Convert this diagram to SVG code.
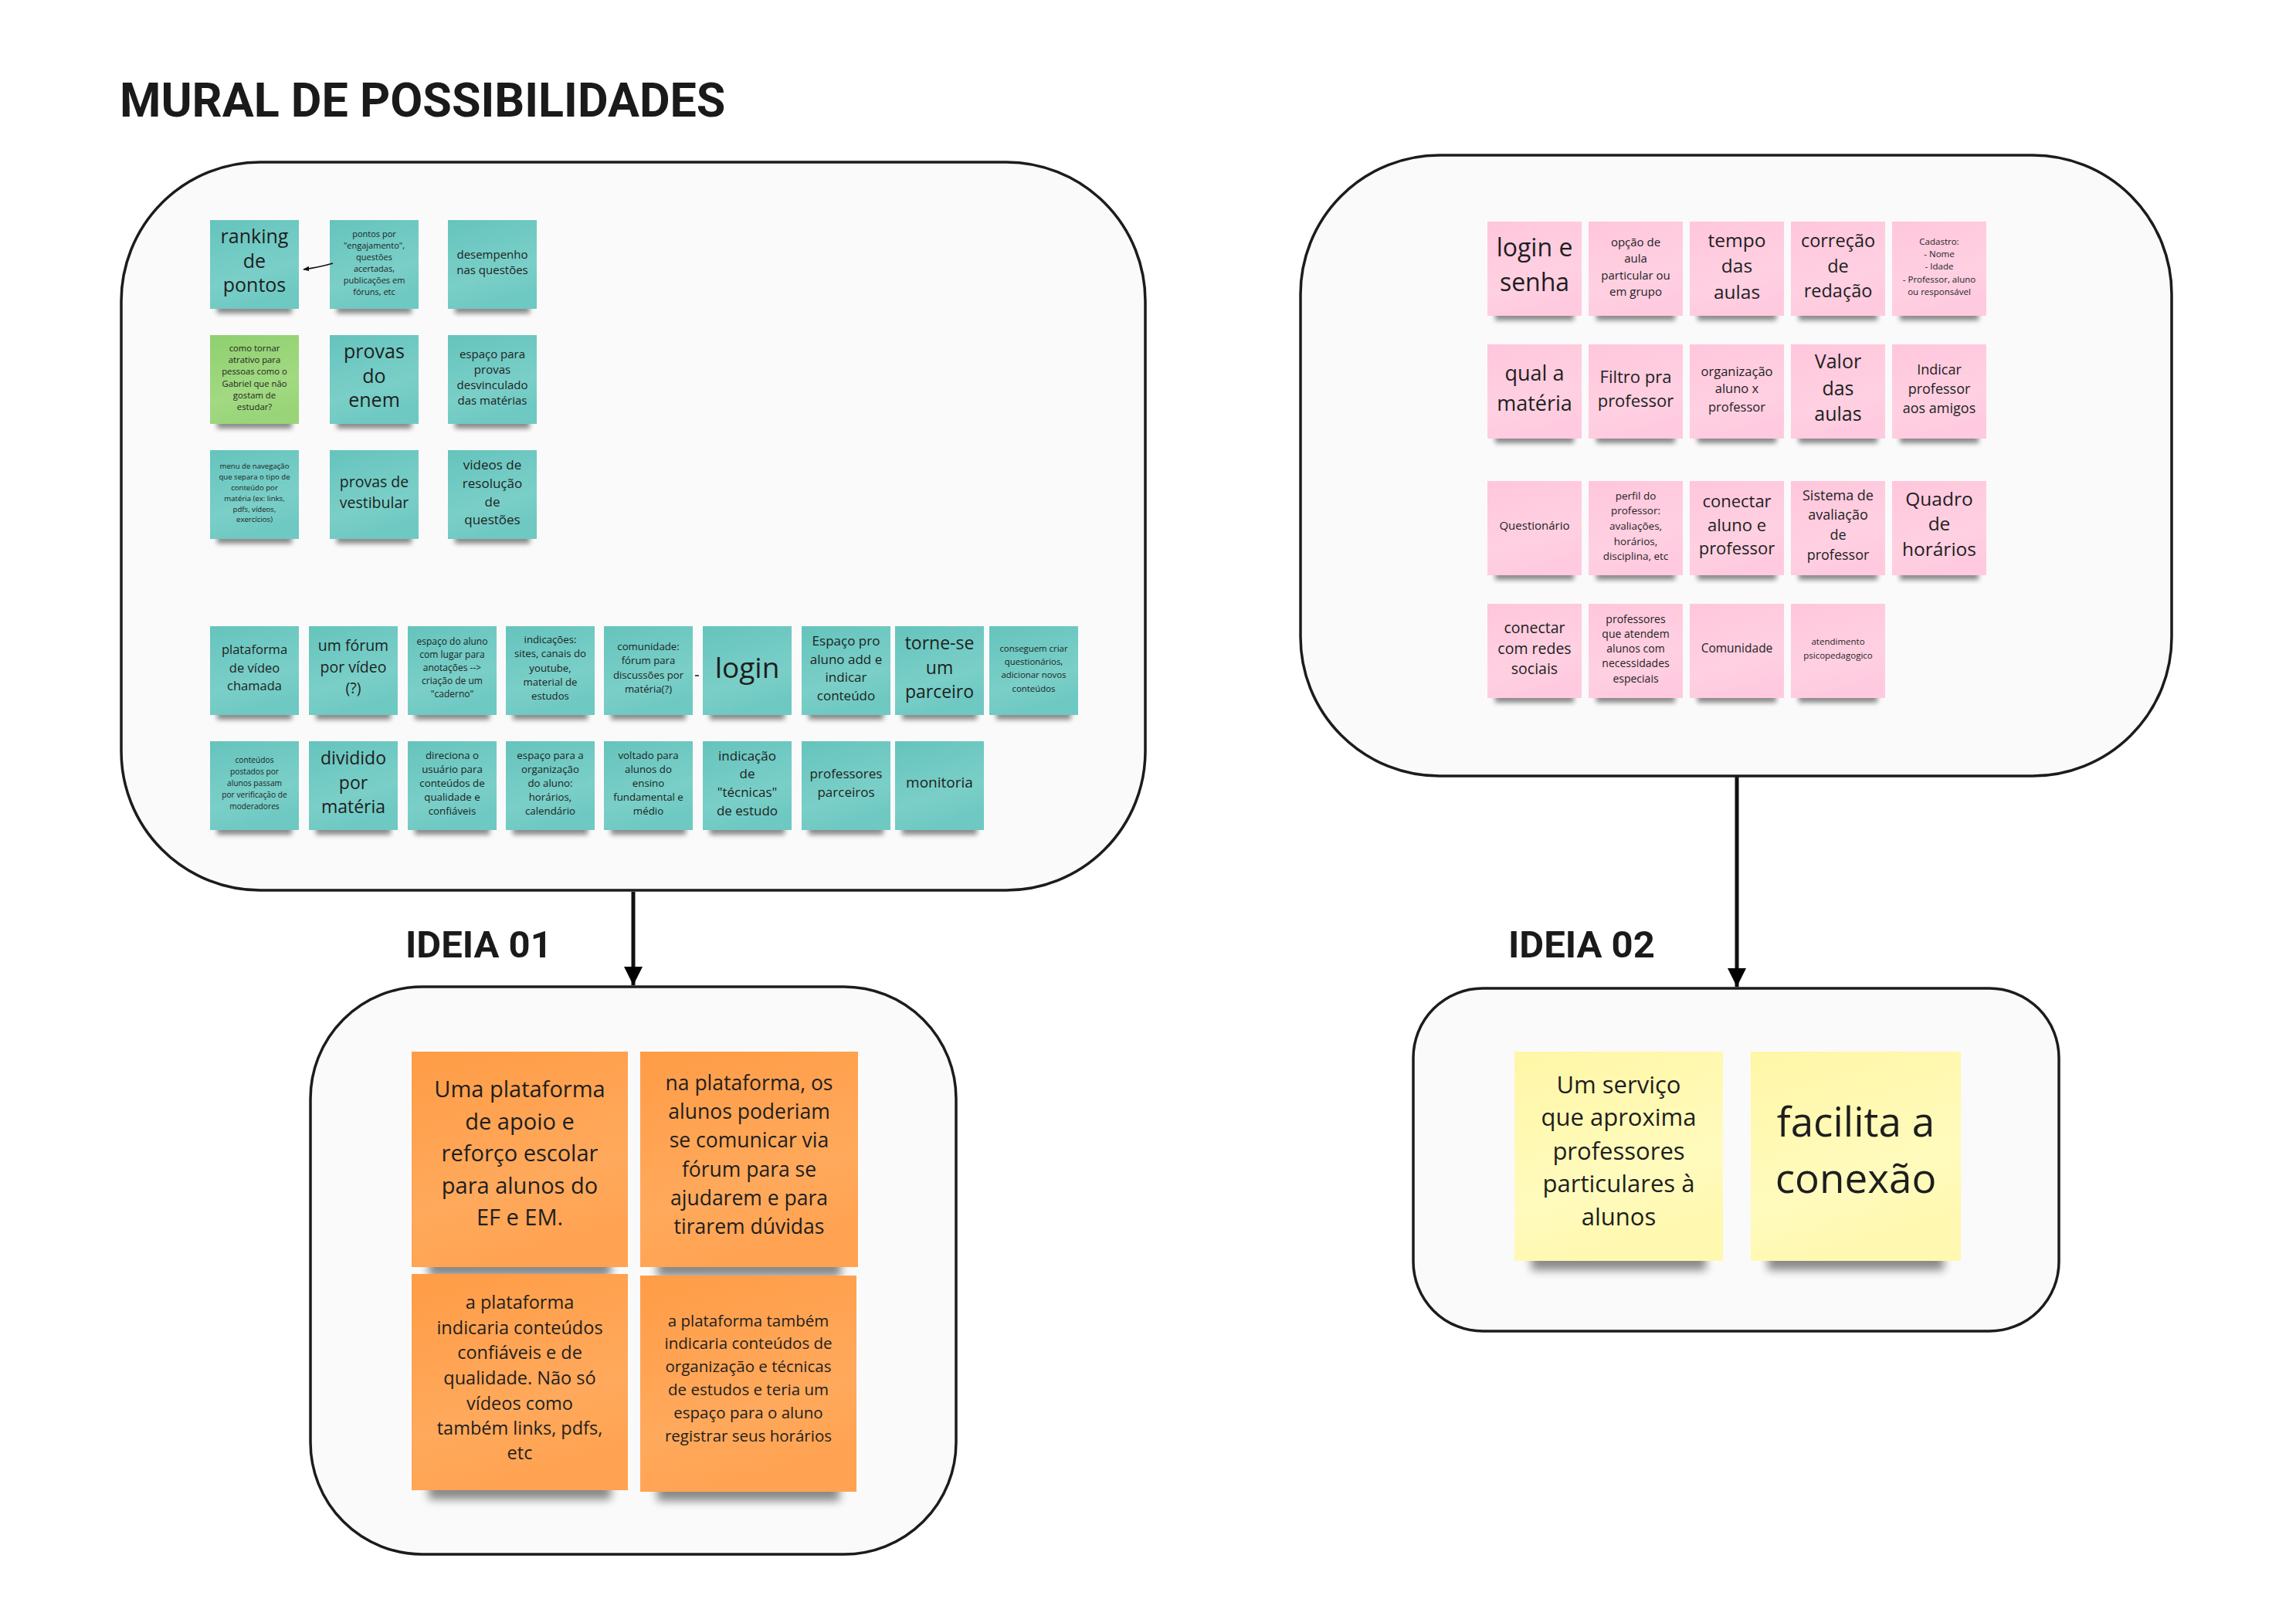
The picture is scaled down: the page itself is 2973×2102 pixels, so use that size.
<svg xmlns="http://www.w3.org/2000/svg" width="2973" height="2102" viewBox="0 0 2973 2102">
<style>
.panel{fill:#fafafa;stroke:#1c1c1c;stroke-width:3.5}
.title{font-family:Roboto,"Liberation Sans",sans-serif;font-weight:700;fill:#1a1a1a}
.t{font-family:"Open Sans","Liberation Sans",sans-serif;fill:#1e1e1e;text-anchor:middle}
.sh{fill:#000;opacity:.45}
.teal{fill:url(#gTeal)}
.green{fill:url(#gGreen)}
.pink{fill:url(#gPink)}
.orange{fill:url(#gOrange)}
.yellow{fill:url(#gYellow)}
.conn{stroke:#111;fill:none}
</style>
<defs>
<filter id="bs" x="-20%" y="-100%" width="140%" height="300%"><feGaussianBlur stdDeviation="3"/></filter>
<filter id="bl" x="-20%" y="-100%" width="140%" height="300%"><feGaussianBlur stdDeviation="6"/></filter>
<linearGradient id="gTeal" x1="0" y1="0" x2="0.3" y2="1"><stop offset="0" stop-color="#65c4bd"/><stop offset="0.7" stop-color="#7acfc8"/><stop offset="1" stop-color="#6ec9c2"/></linearGradient>
<linearGradient id="gGreen" x1="0" y1="0" x2="0.3" y2="1"><stop offset="0" stop-color="#8fd06f"/><stop offset="0.7" stop-color="#a2d982"/><stop offset="1" stop-color="#99d578"/></linearGradient>
<linearGradient id="gPink" x1="0" y1="0" x2="0.3" y2="1"><stop offset="0" stop-color="#ffc6dc"/><stop offset="0.7" stop-color="#ffd0e2"/><stop offset="1" stop-color="#ffcadf"/></linearGradient>
<linearGradient id="gOrange" x1="0" y1="0" x2="0.3" y2="1"><stop offset="0" stop-color="#ff9c46"/><stop offset="0.7" stop-color="#ffa95c"/><stop offset="1" stop-color="#ffa352"/></linearGradient>
<linearGradient id="gYellow" x1="0" y1="0" x2="0.3" y2="1"><stop offset="0" stop-color="#fff6a6"/><stop offset="0.7" stop-color="#fffbbd"/><stop offset="1" stop-color="#fff8b0"/></linearGradient>
<marker id="ah" viewBox="0 0 10 10" refX="9" refY="5" markerWidth="8" markerHeight="8" orient="auto" markerUnits="userSpaceOnUse"><path d="M0,1 L10,5 L0,9 Z" fill="#111"/></marker>
<marker id="ahBig" viewBox="0 0 10 10" refX="10" refY="5" markerWidth="26" markerHeight="24" orient="auto" markerUnits="userSpaceOnUse"><path d="M0,0 L10,5 L0,10 Z" fill="#000"/></marker>
</defs>
<rect width="2973" height="2102" fill="#ffffff"/>

<text class="title" x="155" y="151" font-size="61">MURAL DE POSSIBILIDADES</text>

<g id="panel-mural"><rect class="panel" x="157" y="210" width="1326" height="943" rx="180" ry="180"/></g>
<g id="panel-mural2"><rect class="panel" x="1684" y="201" width="1128" height="804" rx="180" ry="180"/></g>
<g id="panel-ideia01"><rect class="panel" x="402" y="1278" width="836" height="735" rx="145" ry="145"/></g>
<g id="panel-ideia02"><rect class="panel" x="1830" y="1280" width="836" height="444" rx="90" ry="90"/></g>

<text id="label-ideia01" class="title" x="525" y="1240" font-size="49">IDEIA 01</text>
<text id="label-ideia02" class="title" x="1953" y="1240" font-size="49">IDEIA 02</text>

<!-- teal notes top-left -->
<g id="n-ranking" transform="translate(272,285)"><rect class="sh" filter="url(#bs)" x="9" y="109" width="97" height="12"/><rect class="teal" width="115" height="115"/><text class="t" font-size="25"><tspan x="57.5" y="30">ranking</tspan><tspan x="57.5" y="62">de</tspan><tspan x="57.5" y="93">pontos</tspan></text></g>
<g id="n-pontospor" transform="translate(427,285)"><rect class="sh" filter="url(#bs)" x="9" y="109" width="97" height="12"/><rect class="teal" width="115" height="115"/><text class="t" font-size="11"><tspan x="57.5" y="22">pontos por</tspan><tspan x="57.5" y="37">"engajamento",</tspan><tspan x="57.5" y="52">questões</tspan><tspan x="57.5" y="67">acertadas,</tspan><tspan x="57.5" y="82">publicações em</tspan><tspan x="57.5" y="97">fóruns, etc</tspan></text></g>
<g id="n-desempenho" transform="translate(580,285)"><rect class="sh" filter="url(#bs)" x="9" y="109" width="97" height="12"/><rect class="teal" width="115" height="115"/><text class="t" font-size="15"><tspan x="57.5" y="50">desempenho</tspan><tspan x="57.5" y="70">nas questões</tspan></text></g>
<g id="n-atrativo" transform="translate(272,434)"><rect class="sh" filter="url(#bs)" x="9" y="109" width="97" height="12"/><rect class="green" width="115" height="115"/><text class="t" font-size="11.3"><tspan x="57.5" y="21">como tornar</tspan><tspan x="57.5" y="36">atrativo para</tspan><tspan x="57.5" y="51">pessoas como o</tspan><tspan x="57.5" y="66.5">Gabriel que não</tspan><tspan x="57.5" y="81.5">gostam de</tspan><tspan x="57.5" y="96.5">estudar?</tspan></text></g>
<g id="n-enem" transform="translate(427,434)"><rect class="sh" filter="url(#bs)" x="9" y="109" width="97" height="12"/><rect class="teal" width="115" height="115"/><text class="t" font-size="25"><tspan x="57.5" y="30">provas</tspan><tspan x="57.5" y="62">do</tspan><tspan x="57.5" y="93">enem</tspan></text></g>
<g id="n-espacoprovas" transform="translate(580,434)"><rect class="sh" filter="url(#bs)" x="9" y="109" width="97" height="12"/><rect class="teal" width="115" height="115"/><text class="t" font-size="15"><tspan x="57.5" y="30">espaço para</tspan><tspan x="57.5" y="50">provas</tspan><tspan x="57.5" y="70">desvinculado</tspan><tspan x="57.5" y="90">das matérias</tspan></text></g>
<g id="n-menu" transform="translate(272,583)"><rect class="sh" filter="url(#bs)" x="9" y="109" width="97" height="12"/><rect class="teal" width="115" height="115"/><text class="t" font-size="9.6"><tspan x="57.5" y="24">menu de navegação</tspan><tspan x="57.5" y="38">que separa o tipo de</tspan><tspan x="57.5" y="52">conteúdo por</tspan><tspan x="57.5" y="66">matéria (ex: links,</tspan><tspan x="57.5" y="79.5">pdfs, vídeos,</tspan><tspan x="57.5" y="93">exercícios)</tspan></text></g>
<g id="n-vestibular" transform="translate(427,583)"><rect class="sh" filter="url(#bs)" x="9" y="109" width="97" height="12"/><rect class="teal" width="115" height="115"/><text class="t" font-size="19.5"><tspan x="57.5" y="48">provas de</tspan><tspan x="57.5" y="75">vestibular</tspan></text></g>
<g id="n-videos" transform="translate(580,583)"><rect class="sh" filter="url(#bs)" x="9" y="109" width="97" height="12"/><rect class="teal" width="115" height="115"/><text class="t" font-size="17"><tspan x="57.5" y="25">videos de</tspan><tspan x="57.5" y="49">resolução</tspan><tspan x="57.5" y="73">de</tspan><tspan x="57.5" y="96">questões</tspan></text></g>

<!-- teal row A -->
<g id="n-videochamada" transform="translate(272,811)"><rect class="sh" filter="url(#bs)" x="9" y="109" width="97" height="12"/><rect class="teal" width="115" height="115"/><text class="t" font-size="16.5"><tspan x="57.5" y="36">plataforma</tspan><tspan x="57.5" y="60">de vídeo</tspan><tspan x="57.5" y="83">chamada</tspan></text></g>
<g id="n-forumvideo" transform="translate(400,811)"><rect class="sh" filter="url(#bs)" x="9" y="109" width="97" height="12"/><rect class="teal" width="115" height="115"/><text class="t" font-size="19.5"><tspan x="57.5" y="32">um fórum</tspan><tspan x="57.5" y="60">por vídeo</tspan><tspan x="57.5" y="87">(?)</tspan></text></g>
<g id="n-caderno" transform="translate(528,811)"><rect class="sh" filter="url(#bs)" x="9" y="109" width="97" height="12"/><rect class="teal" width="115" height="115"/><text class="t" font-size="12"><tspan x="57.5" y="24">espaço do aluno</tspan><tspan x="57.5" y="41">com lugar para</tspan><tspan x="57.5" y="58">anotações --&gt;</tspan><tspan x="57.5" y="75">criação de um</tspan><tspan x="57.5" y="92">"caderno"</tspan></text></g>
<g id="n-indicacoes" transform="translate(655,811)"><rect class="sh" filter="url(#bs)" x="9" y="109" width="97" height="12"/><rect class="teal" width="115" height="115"/><text class="t" font-size="13.2"><tspan x="57.5" y="22">indicações:</tspan><tspan x="57.5" y="40">sites, canais do</tspan><tspan x="57.5" y="59">youtube,</tspan><tspan x="57.5" y="77">material de</tspan><tspan x="57.5" y="95">estudos</tspan></text></g>
<g id="n-comunidade" transform="translate(782,811)"><rect class="sh" filter="url(#bs)" x="9" y="109" width="97" height="12"/><rect class="teal" width="115" height="115"/><text class="t" font-size="13.2"><tspan x="57.5" y="31">comunidade:</tspan><tspan x="57.5" y="49">fórum para</tspan><tspan x="57.5" y="68">discussões por</tspan><tspan x="57.5" y="86">matéria(?)</tspan></text></g>
<g id="n-login" transform="translate(910,811)"><rect class="sh" filter="url(#bs)" x="9" y="109" width="97" height="12"/><rect class="teal" width="115" height="115"/><text class="t" font-size="37"><tspan x="57.5" y="67">login</tspan></text></g>
<g id="n-espacopro" transform="translate(1038,811)"><rect class="sh" filter="url(#bs)" x="9" y="109" width="97" height="12"/><rect class="teal" width="115" height="115"/><text class="t" font-size="17"><tspan x="57.5" y="25">Espaço pro</tspan><tspan x="57.5" y="49">aluno add e</tspan><tspan x="57.5" y="72">indicar</tspan><tspan x="57.5" y="96">conteúdo</tspan></text></g>
<g id="n-parceiro" transform="translate(1159,811)"><rect class="sh" filter="url(#bs)" x="9" y="109" width="97" height="12"/><rect class="teal" width="115" height="115"/><text class="t" font-size="23"><tspan x="57.5" y="30">torne-se</tspan><tspan x="57.5" y="62">um</tspan><tspan x="57.5" y="93">parceiro</tspan></text></g>
<g id="n-questionarios" transform="translate(1281,811)"><rect class="sh" filter="url(#bs)" x="9" y="109" width="97" height="12"/><rect class="teal" width="115" height="115"/><text class="t" font-size="11.4"><tspan x="57.5" y="33">conseguem criar</tspan><tspan x="57.5" y="50">questionários,</tspan><tspan x="57.5" y="67">adicionar novos</tspan><tspan x="57.5" y="85">conteúdos</tspan></text></g>

<!-- teal row B -->
<g id="n-moderadores" transform="translate(272,960)"><rect class="sh" filter="url(#bs)" x="9" y="109" width="97" height="12"/><rect class="teal" width="115" height="115"/><text class="t" font-size="10.2"><tspan x="57.5" y="28">conteúdos</tspan><tspan x="57.5" y="43">postados por</tspan><tspan x="57.5" y="58">alunos passam</tspan><tspan x="57.5" y="73">por verificação de</tspan><tspan x="57.5" y="88">moderadores</tspan></text></g>
<g id="n-dividido" transform="translate(400,960)"><rect class="sh" filter="url(#bs)" x="9" y="109" width="97" height="12"/><rect class="teal" width="115" height="115"/><text class="t" font-size="23"><tspan x="57.5" y="30">dividido</tspan><tspan x="57.5" y="62">por</tspan><tspan x="57.5" y="93">matéria</tspan></text></g>
<g id="n-direciona" transform="translate(528,960)"><rect class="sh" filter="url(#bs)" x="9" y="109" width="97" height="12"/><rect class="teal" width="115" height="115"/><text class="t" font-size="13.3"><tspan x="57.5" y="23">direciona o</tspan><tspan x="57.5" y="41">usuário para</tspan><tspan x="57.5" y="59">conteúdos de</tspan><tspan x="57.5" y="77">qualidade e</tspan><tspan x="57.5" y="95">confiáveis</tspan></text></g>
<g id="n-organizacao" transform="translate(655,960)"><rect class="sh" filter="url(#bs)" x="9" y="109" width="97" height="12"/><rect class="teal" width="115" height="115"/><text class="t" font-size="13.3"><tspan x="57.5" y="23">espaço para a</tspan><tspan x="57.5" y="41">organização</tspan><tspan x="57.5" y="59">do aluno:</tspan><tspan x="57.5" y="77">horários,</tspan><tspan x="57.5" y="95">calendário</tspan></text></g>
<g id="n-ensino" transform="translate(782,960)"><rect class="sh" filter="url(#bs)" x="9" y="109" width="97" height="12"/><rect class="teal" width="115" height="115"/><text class="t" font-size="13.3"><tspan x="57.5" y="23">voltado para</tspan><tspan x="57.5" y="41">alunos do</tspan><tspan x="57.5" y="59">ensino</tspan><tspan x="57.5" y="77">fundamental e</tspan><tspan x="57.5" y="95">médio</tspan></text></g>
<g id="n-tecnicas" transform="translate(910,960)"><rect class="sh" filter="url(#bs)" x="9" y="109" width="97" height="12"/><rect class="teal" width="115" height="115"/><text class="t" font-size="17"><tspan x="57.5" y="25">indicação</tspan><tspan x="57.5" y="48">de</tspan><tspan x="57.5" y="72">"técnicas"</tspan><tspan x="57.5" y="96">de estudo</tspan></text></g>
<g id="n-profparceiros" transform="translate(1038,960)"><rect class="sh" filter="url(#bs)" x="9" y="109" width="97" height="12"/><rect class="teal" width="115" height="115"/><text class="t" font-size="17"><tspan x="57.5" y="48">professores</tspan><tspan x="57.5" y="72">parceiros</tspan></text></g>
<g id="n-monitoria" transform="translate(1159,960)"><rect class="sh" filter="url(#bs)" x="9" y="109" width="97" height="12"/><rect class="teal" width="115" height="115"/><text class="t" font-size="19"><tspan x="57.5" y="60">monitoria</tspan></text></g>

<!-- pink notes -->
<g id="p-login" transform="translate(1926,287)"><rect class="sh" filter="url(#bs)" x="10" y="116" width="102" height="12"/><rect class="pink" width="122" height="122"/><text class="t" font-size="32"><tspan x="61" y="45">login e</tspan><tspan x="61" y="90">senha</tspan></text></g>
<g id="p-opcao" transform="translate(2057,287)"><rect class="sh" filter="url(#bs)" x="10" y="116" width="102" height="12"/><rect class="pink" width="122" height="122"/><text class="t" font-size="15"><tspan x="61" y="32">opção de</tspan><tspan x="61" y="53">aula</tspan><tspan x="61" y="75">particular ou</tspan><tspan x="61" y="96">em grupo</tspan></text></g>
<g id="p-tempo" transform="translate(2188,287)"><rect class="sh" filter="url(#bs)" x="10" y="116" width="102" height="12"/><rect class="pink" width="122" height="122"/><text class="t" font-size="24.5"><tspan x="61" y="33">tempo</tspan><tspan x="61" y="66">das</tspan><tspan x="61" y="100">aulas</tspan></text></g>
<g id="p-correcao" transform="translate(2319,287)"><rect class="sh" filter="url(#bs)" x="10" y="116" width="102" height="12"/><rect class="pink" width="122" height="122"/><text class="t" font-size="23.5"><tspan x="61" y="33">correção</tspan><tspan x="61" y="66">de</tspan><tspan x="61" y="98">redação</tspan></text></g>
<g id="p-cadastro" transform="translate(2450,287)"><rect class="sh" filter="url(#bs)" x="10" y="116" width="102" height="12"/><rect class="pink" width="122" height="122"/><text class="t" font-size="11.5"><tspan x="61" y="30">Cadastro:</tspan><tspan x="61" y="46">- Nome</tspan><tspan x="61" y="62">- Idade</tspan><tspan x="61" y="79">- Professor, aluno</tspan><tspan x="61" y="95">ou responsável</tspan></text></g>

<g id="p-materia" transform="translate(1926,446)"><rect class="sh" filter="url(#bs)" x="10" y="116" width="102" height="12"/><rect class="pink" width="122" height="122"/><text class="t" font-size="27"><tspan x="61" y="47">qual a</tspan><tspan x="61" y="86">matéria</tspan></text></g>
<g id="p-filtro" transform="translate(2057,446)"><rect class="sh" filter="url(#bs)" x="10" y="116" width="102" height="12"/><rect class="pink" width="122" height="122"/><text class="t" font-size="22"><tspan x="61" y="50">Filtro pra</tspan><tspan x="61" y="81">professor</tspan></text></g>
<g id="p-orgaluno" transform="translate(2188,446)"><rect class="sh" filter="url(#bs)" x="10" y="116" width="102" height="12"/><rect class="pink" width="122" height="122"/><text class="t" font-size="16.5"><tspan x="61" y="41">organização</tspan><tspan x="61" y="63">aluno x</tspan><tspan x="61" y="87">professor</tspan></text></g>
<g id="p-valor" transform="translate(2319,446)"><rect class="sh" filter="url(#bs)" x="10" y="116" width="102" height="12"/><rect class="pink" width="122" height="122"/><text class="t" font-size="25"><tspan x="61" y="31">Valor</tspan><tspan x="61" y="66">das</tspan><tspan x="61" y="99">aulas</tspan></text></g>
<g id="p-indicar" transform="translate(2450,446)"><rect class="sh" filter="url(#bs)" x="10" y="116" width="102" height="12"/><rect class="pink" width="122" height="122"/><text class="t" font-size="18"><tspan x="61" y="39">Indicar</tspan><tspan x="61" y="64">professor</tspan><tspan x="61" y="89">aos amigos</tspan></text></g>

<g id="p-questionario" transform="translate(1926,623)"><rect class="sh" filter="url(#bs)" x="10" y="116" width="102" height="12"/><rect class="pink" width="122" height="122"/><text class="t" font-size="15"><tspan x="61" y="63">Questionário</tspan></text></g>
<g id="p-perfil" transform="translate(2057,623)"><rect class="sh" filter="url(#bs)" x="10" y="116" width="102" height="12"/><rect class="pink" width="122" height="122"/><text class="t" font-size="13.5"><tspan x="61" y="24">perfil do</tspan><tspan x="61" y="43">professor:</tspan><tspan x="61" y="63">avaliações,</tspan><tspan x="61" y="83">horários,</tspan><tspan x="61" y="102">disciplina, etc</tspan></text></g>
<g id="p-conectar" transform="translate(2188,623)"><rect class="sh" filter="url(#bs)" x="10" y="116" width="102" height="12"/><rect class="pink" width="122" height="122"/><text class="t" font-size="22"><tspan x="61" y="34">conectar</tspan><tspan x="61" y="65">aluno e</tspan><tspan x="61" y="95">professor</tspan></text></g>
<g id="p-sistema" transform="translate(2319,623)"><rect class="sh" filter="url(#bs)" x="10" y="116" width="102" height="12"/><rect class="pink" width="122" height="122"/><text class="t" font-size="18"><tspan x="61" y="25">Sistema de</tspan><tspan x="61" y="50">avaliação</tspan><tspan x="61" y="76">de</tspan><tspan x="61" y="102">professor</tspan></text></g>
<g id="p-quadro" transform="translate(2450,623)"><rect class="sh" filter="url(#bs)" x="10" y="116" width="102" height="12"/><rect class="pink" width="122" height="122"/><text class="t" font-size="24.5"><tspan x="61" y="32">Quadro</tspan><tspan x="61" y="64">de</tspan><tspan x="61" y="97">horários</tspan></text></g>

<g id="p-redes" transform="translate(1926,782)"><rect class="sh" filter="url(#bs)" x="10" y="116" width="102" height="12"/><rect class="pink" width="122" height="122"/><text class="t" font-size="19.5"><tspan x="61" y="38">conectar</tspan><tspan x="61" y="65">com redes</tspan><tspan x="61" y="91">sociais</tspan></text></g>
<g id="p-especiais" transform="translate(2057,782)"><rect class="sh" filter="url(#bs)" x="10" y="116" width="102" height="12"/><rect class="pink" width="122" height="122"/><text class="t" font-size="14"><tspan x="61" y="25">professores</tspan><tspan x="61" y="44">que atendem</tspan><tspan x="61" y="63">alunos com</tspan><tspan x="61" y="82">necessidades</tspan><tspan x="61" y="102">especiais</tspan></text></g>
<g id="p-comunidade" transform="translate(2188,782)"><rect class="sh" filter="url(#bs)" x="10" y="116" width="102" height="12"/><rect class="pink" width="122" height="122"/><text class="t" font-size="15.5"><tspan x="61" y="63">Comunidade</tspan></text></g>
<g id="p-psico" transform="translate(2319,782)"><rect class="sh" filter="url(#bs)" x="10" y="116" width="102" height="12"/><rect class="pink" width="122" height="122"/><text class="t" font-size="11.5"><tspan x="61" y="53">atendimento</tspan><tspan x="61" y="71">psicopedagogico</tspan></text></g>

<!-- orange notes -->
<g id="o-apoio" transform="translate(533,1362)"><rect class="sh" filter="url(#bl)" x="22" y="268" width="236" height="24"/><rect class="orange" width="280" height="279"/><text class="t" font-size="29"><tspan x="140" y="59">Uma plataforma</tspan><tspan x="140" y="100.6">de apoio e</tspan><tspan x="140" y="142">reforço escolar</tspan><tspan x="140" y="183.6">para alunos do</tspan><tspan x="140" y="225">EF e EM.</tspan></text></g>
<g id="o-forum" transform="translate(829,1362)"><rect class="sh" filter="url(#bl)" x="22" y="268" width="238" height="24"/><rect class="orange" width="282" height="279"/><text class="t" font-size="26.5"><tspan x="141" y="50">na plataforma, os</tspan><tspan x="141" y="87">alunos poderiam</tspan><tspan x="141" y="124">se comunicar via</tspan><tspan x="141" y="162">fórum para se</tspan><tspan x="141" y="199">ajudarem e para</tspan><tspan x="141" y="236">tirarem dúvidas</tspan></text></g>
<g id="o-conteudos" transform="translate(533,1650)"><rect class="sh" filter="url(#bl)" x="22" y="268" width="236" height="24"/><rect class="orange" width="280" height="280"/><text class="t" font-size="23.5"><tspan x="140" y="45">a plataforma</tspan><tspan x="140" y="77.5">indicaria conteúdos</tspan><tspan x="140" y="110">confiáveis e de</tspan><tspan x="140" y="143">qualidade. Não só</tspan><tspan x="140" y="176">vídeos como</tspan><tspan x="140" y="208">também links, pdfs,</tspan><tspan x="140" y="240">etc</tspan></text></g>
<g id="o-tecnicas" transform="translate(829,1652)"><rect class="sh" filter="url(#bl)" x="22" y="268" width="236" height="24"/><rect class="orange" width="280" height="280"/><text class="t" font-size="20.5"><tspan x="140" y="66">a plataforma também</tspan><tspan x="140" y="95">indicaria conteúdos de</tspan><tspan x="140" y="125">organização e técnicas</tspan><tspan x="140" y="155">de estudos e teria um</tspan><tspan x="140" y="185">espaço para o aluno</tspan><tspan x="140" y="215">registrar seus horários</tspan></text></g>

<!-- yellow notes -->
<g id="y-servico" transform="translate(1961,1362)"><rect class="sh" filter="url(#bl)" x="22" y="259" width="226" height="24"/><rect class="yellow" width="270" height="271"/><text class="t" font-size="31"><tspan x="135" y="54">Um serviço</tspan><tspan x="135" y="96">que aproxima</tspan><tspan x="135" y="140">professores</tspan><tspan x="135" y="182">particulares à</tspan><tspan x="135" y="225">alunos</tspan></text></g>
<g id="y-facilita" transform="translate(2267,1362)"><rect class="sh" filter="url(#bl)" x="22" y="259" width="228" height="24"/><rect class="yellow" width="272" height="271"/><text class="t" font-size="53"><tspan x="136" y="110">facilita a</tspan><tspan x="136" y="183">conexão</tspan></text></g>

<g id="connectors">
<path class="conn" stroke-width="1.5" d="M431,341 Q414,346 393,349" marker-end="url(#ah)"/>
<line class="conn" stroke-width="1.5" x1="900" y1="875" x2="905" y2="875"/>
<line class="conn" stroke="#000" stroke-width="5" x1="820" y1="1155" x2="820" y2="1276" marker-end="url(#ahBig)"/>
<line class="conn" stroke="#000" stroke-width="5" x1="2249" y1="1006" x2="2249" y2="1278" marker-end="url(#ahBig)"/>
</g>
</svg>
